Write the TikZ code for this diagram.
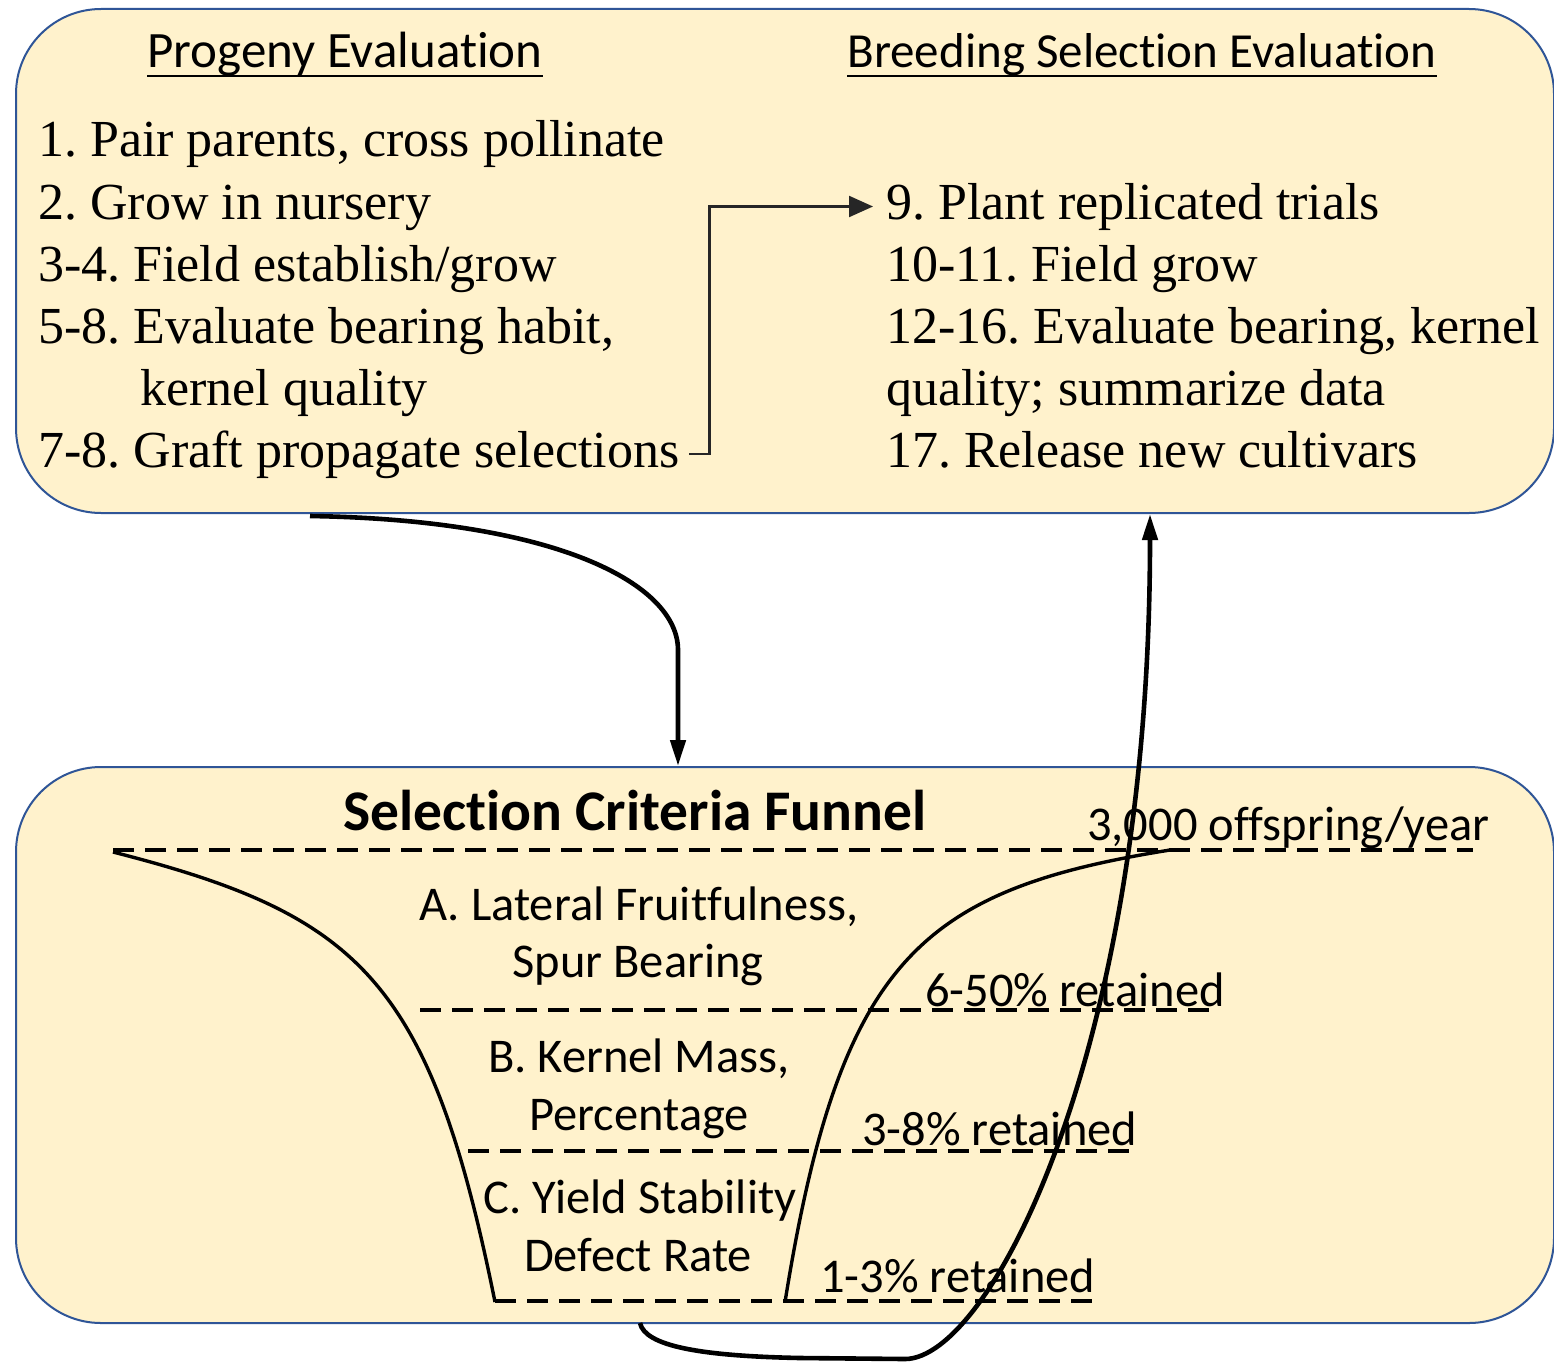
\documentclass[tikz,border=0pt]{standalone}
\usepackage{fontspec}
\setmainfont{Liberation Serif}
\newfontfamily\carl[Ligatures=NoCommon]{Carlito}
\usetikzlibrary{arrows.meta}
\definecolor{boxfill}{HTML}{FFF2CC}
\definecolor{boxline}{HTML}{2F5597}
\tikzset{
  panel/.style={draw=boxline, line width=2pt, fill=boxfill, rounded corners=85pt, anchor=north west, inner sep=0pt},
  serif/.style={anchor=base west, inner sep=0pt, font=\frenchspacing\fontsize{52}{62}\selectfont},
  head/.style={anchor=base, inner sep=0pt, font=\carl\fontsize{49}{58}\selectfont},
  crit/.style={anchor=base, inner sep=0pt, font=\carl\fontsize{48.5}{56}\selectfont},
  ret/.style={anchor=base west, inner sep=0pt, font=\carl\fontsize{48.5}{56}\selectfont},
  sep/.style={dash pattern=on 21pt off 11pt, line width=3.8pt},
  funnel/.style={line width=3.4pt},
  flow/.style={line width=4.6pt, -{Triangle[length=26pt,width=15pt]}},
  elbowarrow/.style={line width=2.2pt, draw=black!85, -{Triangle[length=24pt,width=21pt]}}
}
\begin{document}
\begin{tikzpicture}[x=1pt,y=-1pt]
\useasboundingbox (0,0) rectangle (1554,1362);
\fill[white] (0,0) rectangle (1554,1362);

% panels
\node[panel, minimum width=1538pt, minimum height=504pt] (top) at (15,8) {};
\node[panel, minimum width=1538pt, minimum height=556pt] (bot) at (15,766) {};

% headings
\node[head, font=\carl\fontsize{51}{60}\selectfont] (h1) at (345,68) {Progeny Evaluation};
\node[head] (h2) at (1142,68) {Breeding Selection Evaluation};
\draw[line width=2pt] ([yshift=-8pt]h1.base west) -- ([yshift=-8pt]h1.base east);
\draw[line width=2pt] ([yshift=-8pt]h2.base west) -- ([yshift=-8pt]h2.base east);

% left column
\node[serif] (l1) at (38,157) {1. Pair parents, cross pollinate};
\node[serif] (l2) at (38,219) {2. Grow in nursery};
\node[serif] (l3) at (38,281) {3-4. Field establish/grow};
\node[serif] (l4) at (38,343) {5-8. Evaluate bearing habit,};
\node[serif] (l5) at (140,405) {kernel quality};
\node[serif] (l6) at (38,467) {7-8. Graft propagate selections};

% right column
\node[serif] (r1) at (886,219) {9. Plant replicated trials};
\node[serif] (r2) at (886,281) {10-11. Field grow};
\node[serif] (r3) at (886,343) {12-16. Evaluate bearing, kernel};
\node[serif] (r4) at (886,405) {quality; summarize data};
\node[serif] (r5) at (886,467) {17. Release new cultivars};

\draw[elbowarrow, shorten >=13pt] ([xshift=10pt]l6.east) -- ++(20,0) |- (r1.west);

% funnel title
\node[anchor=base, inner sep=0pt, font=\carl\bfseries\fontsize{57.5}{66}\selectfont] (ft) at (635,830) {Selection Criteria Funnel};

% separators
\draw[sep] (113,850) -- (1473,850);
\draw[sep] (420,1010) -- (1218,1010);
\draw[sep] (468,1151) -- (1130,1151);
\draw[sep] (495,1301) -- (1097,1301);

% funnel walls
\draw[funnel] (113,852) .. controls (360,915) and (430,980) .. (495,1302);
\draw[funnel] (1170,850) .. controls (920,890) and (840,960) .. (785,1302);

% criteria
\node[crit] (ca1) at (639,920) {A. Lateral Fruitfulness,};
\node[crit] (ca2) at (638,977) {Spur Bearing};
\node[crit] (cb1) at (639,1072) {B. Kernel Mass,};
\node[crit] (cb2) at (639,1130) {Percentage};
\node[crit] (cc1) at (640,1213) {C. Yield Stability};
\node[crit] (cc2) at (638,1271) {Defect Rate};

% retention labels
\node[ret] (n0) at (1087,840) {3,000 offspring/year};
\node[ret] (n1) at (925,1006) {6-50\% retained};
\node[ret] (n2) at (862,1145) {3-8\% retained};
\node[ret] (n3) at (820,1292) {1-3\% retained};

% flow arrows
\coordinate (s1) at (310,516);
\coordinate (c1) at (678,0);
\draw[flow] (s1) .. controls (560,520) and (678,585) .. (678,650) -- (bot.north -| c1);

\coordinate (s2) at (640,1323);
\coordinate (c2) at (1150,0);
\draw[flow] (s2) .. controls (645,1346) and (700,1356) .. (800,1358) -- (905,1359)
  .. controls (990,1359) and (1150,1050) .. (top.south -| c2);
\end{tikzpicture}
\end{document}
